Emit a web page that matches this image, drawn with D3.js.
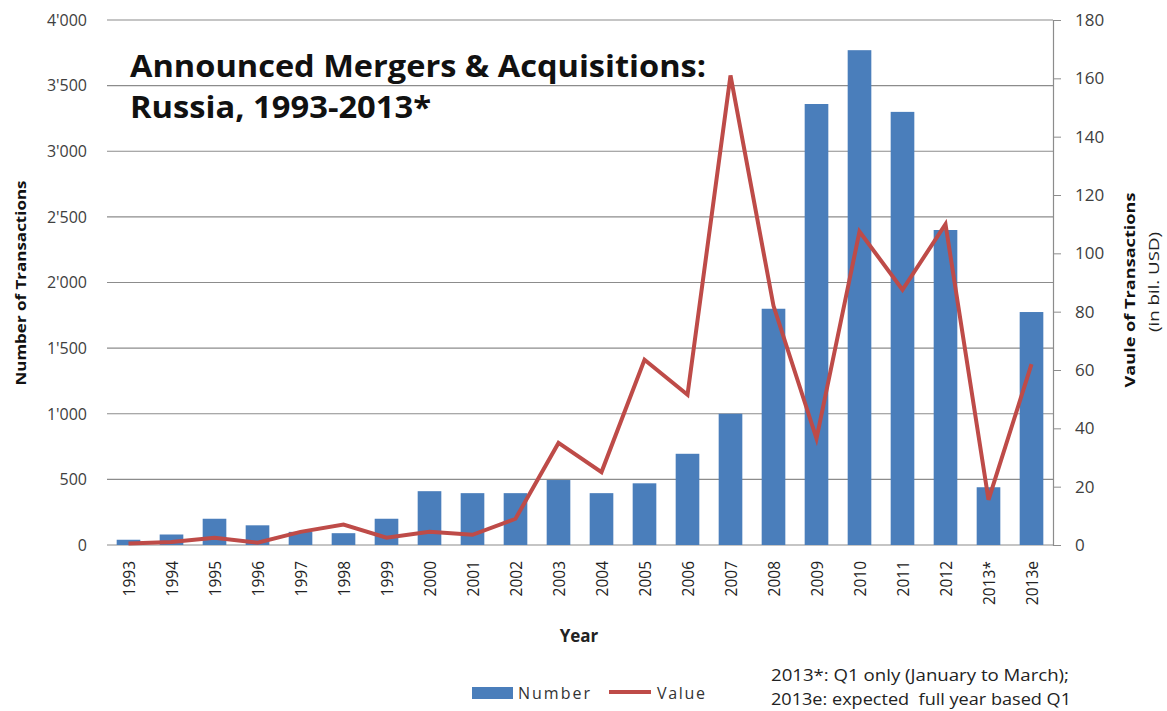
<!DOCTYPE html>
<html>
<head>
<meta charset="utf-8">
<script src="https://cdn.jsdelivr.net/npm/d3@7"></script>
<style>
  body { margin: 0; background: #fff; }
  text { font-family: "Open Sans", "Noto Sans", sans-serif; }
</style>
</head>
<body>
<svg id="chart"></svg>
<script>
// data
const years = ['1993','1994','1995','1996','1997','1998','1999','2000','2001','2002',
  '2003','2004','2005','2006','2007','2008','2009','2010','2011','2012','2013*','2013e'];
const numbers = [40, 80, 200, 150, 100, 90, 200, 410, 395, 395,
  495, 395, 470, 695, 1000, 1800, 3360, 3770, 3300, 2400, 440, 1775];
const values = [0.5, 1, 2.5, 0.8, 4.5, 7, 2.5, 4.5, 3.5, 9,
  35, 25, 63.5, 51.5, 161, 82, 36.5, 107.5, 87.5, 110, 15.5, 62];
const leftTicks = [0, 500, 1000, 1500, 2000, 2500, 3000, 3500, 4000];
const rightTicks = [0, 20, 40, 60, 80, 100, 120, 140, 160, 180];

const W = 1167, H = 711;
const plot = { left: 107, right: 1053, top: 20, bottom: 545 };

const svg = d3.select('#chart').attr('width', W).attr('height', H);

const x = d3.scaleBand().domain(years).range([plot.left, plot.right]).paddingInner(0.45).paddingOuter(0.225);
const yL = d3.scaleLinear().domain([0, 4000]).range([plot.bottom, plot.top]);
const yR = d3.scaleLinear().domain([0, 180]).range([plot.bottom, plot.top]);

const fmt = v => v >= 1000 ? d3.format(',')(v).replace(',', "'") : String(v);

// gridlines
svg.append('g').selectAll('line').data(leftTicks).join('line')
  .attr('x1', plot.left).attr('x2', plot.right)
  .attr('y1', d => yL(d)).attr('y2', d => yL(d))
  .attr('stroke', '#8c8c8c').attr('stroke-width', 1.2);

// left tick labels
svg.append('g').selectAll('text').data(leftTicks).join('text')
  .attr('x', 87).attr('y', d => yL(d)).attr('dy', '0.36em')
  .attr('text-anchor', 'end').attr('font-size', 16).attr('fill', '#404040')
  .text(fmt);

// right axis
const rAxis = svg.append('g').attr('transform', `translate(${plot.right},0)`)
  .call(d3.axisRight(yR).tickValues(rightTicks).tickSize(8).tickPadding(14));
rAxis.select('.domain').attr('stroke', '#8c8c8c').attr('stroke-width', 1.2);
rAxis.selectAll('.tick line').attr('stroke', '#8c8c8c');
rAxis.selectAll('.tick text').attr('font-size', 17).attr('fill', '#404040')
  .attr('font-family', '"Open Sans", sans-serif');

// bars
svg.append('g').selectAll('rect').data(numbers).join('rect')
  .attr('x', (d, i) => x(years[i]))
  .attr('width', x.bandwidth())
  .attr('y', d => yL(d))
  .attr('height', d => yL(0) - yL(d))
  .attr('fill', '#4a7ebb');

// value line
const line = d3.line()
  .x((d, i) => x(years[i]) + x.bandwidth() / 2)
  .y(d => yR(d));
svg.append('path').datum(values)
  .attr('d', line)
  .attr('fill', 'none')
  .attr('stroke', '#be4b48')
  .attr('stroke-width', 4)
  .attr('stroke-linejoin', 'miter');

// x tick labels
svg.append('g').selectAll('text').data(years).join('text')
  .attr('transform', d => `translate(${x(d) + x.bandwidth() / 2 + 1},561) rotate(-90)`)
  .attr('dy', '0.35em').attr('text-anchor', 'end')
  .attr('font-size', 15.5).attr('fill', '#222')
  .text(d => d);

// axis titles
svg.append('text').attr('x', 579).attr('y', 642).attr('text-anchor', 'middle')
  .attr('font-size', 17).attr('font-weight', 'bold').attr('fill', '#222').text('Year');

svg.append('text').attr('transform', 'translate(26,283) rotate(-90)')
  .attr('text-anchor', 'middle').attr('font-size', 15).attr('font-weight', 'bold')
  .attr('fill', '#111').attr('textLength', 205).attr('lengthAdjust', 'spacingAndGlyphs')
  .text('Number of Transactions');

svg.append('text').attr('transform', 'translate(1135,290) rotate(-90)')
  .attr('text-anchor', 'middle').attr('font-size', 15).attr('font-weight', 'bold')
  .attr('fill', '#111').attr('textLength', 195).attr('lengthAdjust', 'spacingAndGlyphs')
  .text('Vaule of Transactions');
svg.append('text').attr('transform', 'translate(1159,282) rotate(-90)')
  .attr('text-anchor', 'middle').attr('font-size', 15)
  .attr('fill', '#222').attr('textLength', 100).attr('lengthAdjust', 'spacingAndGlyphs')
  .text('(in bil. USD)');

// title
svg.append('text').attr('x', 130).attr('y', 77)
  .attr('font-size', 30).attr('font-weight', 'bold').attr('fill', '#111')
  .attr('textLength', 576).attr('lengthAdjust', 'spacingAndGlyphs')
  .text('Announced Mergers & Acquisitions:');
svg.append('text').attr('x', 130).attr('y', 118)
  .attr('font-size', 30).attr('font-weight', 'bold').attr('fill', '#111')
  .attr('textLength', 301).attr('lengthAdjust', 'spacingAndGlyphs')
  .text('Russia, 1993-2013*');

// legend
svg.append('rect').attr('x', 472).attr('y', 687).attr('width', 41).attr('height', 12).attr('fill', '#4a7ebb');
svg.append('text').attr('x', 518).attr('y', 699).attr('font-size', 16).attr('fill', '#333')
  .attr('textLength', 72).attr('lengthAdjust', 'spacing').text('Number');
svg.append('line').attr('x1', 609).attr('x2', 651).attr('y1', 692).attr('y2', 692)
  .attr('stroke', '#be4b48').attr('stroke-width', 4);
svg.append('text').attr('x', 657).attr('y', 699).attr('font-size', 16).attr('fill', '#333')
  .attr('textLength', 48).attr('lengthAdjust', 'spacing').text('Value');

// notes
svg.append('text').attr('x', 771).attr('y', 681).attr('font-size', 16).attr('fill', '#222')
  .attr('textLength', 298).attr('lengthAdjust', 'spacingAndGlyphs')
  .text('2013*: Q1 only (January to March);');
svg.append('text').attr('x', 771).attr('y', 705).attr('font-size', 16).attr('fill', '#222')
  .attr('textLength', 300).attr('lengthAdjust', 'spacingAndGlyphs')
  .attr('xml:space', 'preserve').text('2013e: expected  full year based Q1');
</script>
</body>
</html>
